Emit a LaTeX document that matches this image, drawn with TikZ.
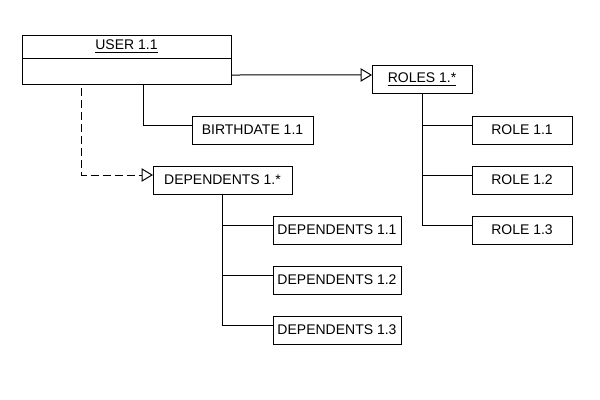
\documentclass[tikz,border=0pt]{standalone}
\usepackage{fontspec}
\setmainfont{Liberation Sans}
\usetikzlibrary{arrows.meta}

\begin{document}
\begin{tikzpicture}[
    x=0.75pt,y=-0.75pt,
    every node/.style={font={\fontsize{10.5}{12}\selectfont}},
    box/.style={draw,line width=.75pt,inner sep=0pt,outer sep=0pt,
        minimum height=21pt},
    link/.style={line width=.75pt},
    inherit/.style={link,-{Triangle[open,length=8.5pt,width=10pt]}},
    depend/.style={inherit,dash pattern=on 6pt off 3pt,dash phase=6pt},
    ]
    \useasboundingbox (0,0) rectangle (600,400);
    % User class, name and empty body
    \node[box,minimum width=156.75pt,minimum height=17.25pt]
         (user) at (126.5,46.5) {\underline{USER 1.1}};
    \node[box,minimum width=156.75pt,minimum height=19.5pt,anchor=north]
         (userb) at (user.south) {};
    % Roles
    \node[box,minimum width=75pt] (roles) at (422,79.5) {\underline{ROLES 1.*}};
    \node[box,minimum width=75pt] (role1) at (522,130) {ROLE 1.1};
    \node[box,minimum width=75pt] (role2) at (522,180) {ROLE 1.2};
    \node[box,minimum width=75pt] (role3) at (522,230) {ROLE 1.3};
    % Birthdate
    \node[box,minimum width=90.75pt] (birth) at (252.5,130) {BIRTHDATE 1.1};
    % Dependents
    \node[box,minimum width=104.25pt] (dep) at (222.5,180) {DEPENDENTS 1.*};
    \node[box,minimum width=96pt] (dep1) at (337,230) {DEPENDENTS 1.1};
    \node[box,minimum width=96pt] (dep2) at (337,280) {DEPENDENTS 1.2};
    \node[box,minimum width=96pt] (dep3) at (337,330) {DEPENDENTS 1.3};

    % User to roles
    \draw[inherit] (userb.east) ++(0,4) -- ([yshift=3.4pt]roles.west);
    % User to birthdate
    \draw[link] ([xshift=12.4pt]userb.south) |- ([yshift=3.75pt]birth.west);
    % User to dependents, dashed
    \draw[depend] ([xshift=-33.4pt]userb.south) |- ([yshift=3.75pt]dep.west);
    % Role branches
    \draw[link] (roles.south) |- ([yshift=3.75pt]role1.west);
    \draw[link] (roles.south) |- ([yshift=3.75pt]role2.west);
    \draw[link] (roles.south) |- ([yshift=3.75pt]role3.west);
    % Dependent branches
    \draw[link] (dep.south) |- ([yshift=3.75pt]dep1.west);
    \draw[link] (dep.south) |- ([yshift=3.75pt]dep2.west);
    \draw[link] (dep.south) |- ([yshift=3.75pt]dep3.west);
\end{tikzpicture}
\end{document}
